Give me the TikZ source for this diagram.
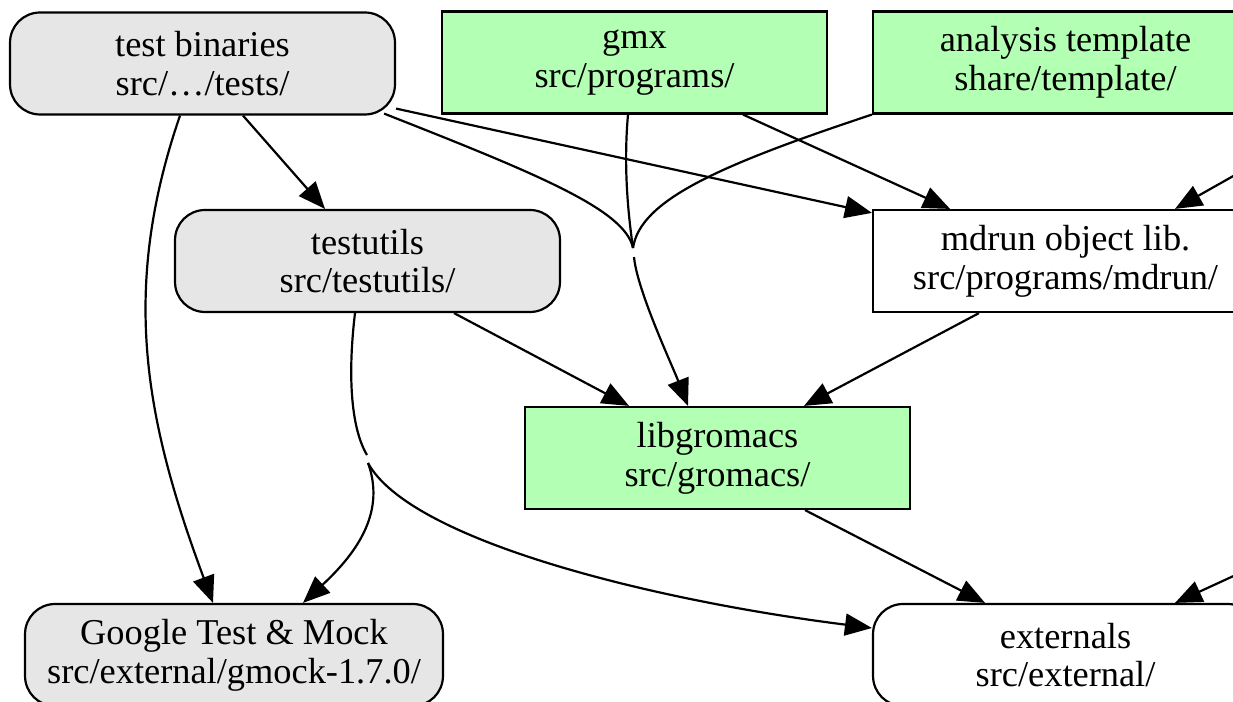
\documentclass[tikz,border=0pt]{standalone}
\usepackage{fontspec}
\setmainfont{Liberation Serif}
\usetikzlibrary{arrows.meta,calc}
\definecolor{box_gray}{HTML}{E6E6E6}
\definecolor{box_green}{HTML}{B3FFB3}

\begin{document}
\begin{tikzpicture}[x=0.02cm, y=-0.02cm]
  \tikzset{
    mod_box/.style={
      draw, line width=1.25pt,
      minimum width=7.7cm, minimum height=2.04cm, inner sep=0pt,
      align=center, font=\fontsize{20.7pt}{22pt}\selectfont
    },
    test_box/.style={mod_box, fill=box_gray, rounded corners=0.6cm},
    lib_box/.style={mod_box, fill=box_green},
    plain_box/.style={mod_box, fill=white},
    dep/.style={line width=1.25pt, -{Triangle[length=0.54cm, width=0.44cm]}},
    dep_part/.style={line width=1.25pt}
  }

  % page frame
  \useasboundingbox (0,0) rectangle (1233,702);

  % modules
  \node[test_box] (tests) at (202.5, 63.5) {test binaries\\src/…/tests/};
  \node[lib_box] (gmx) at (634.5, 62.5) {gmx\\src/programs/};
  \node[lib_box] (template) at (1065.5, 62.5) {analysis template\\share/template/};
  \node[test_box] (testutils) at (367.5, 261) {testutils\\src/testutils/};
  \node[plain_box] (mdrun) at (1065.5, 261) {mdrun object lib.\\src/programs/mdrun/};
  \node[lib_box] (libgmx) at (717.5, 458) {libgromacs\\src/gromacs/};
  \node[test_box, minimum width=8.36cm] (gtest) at (234, 655) {Google Test \& Mock\\src/external/gmock-1.7.0/};
  \node[plain_box, rounded corners=0.6cm] (externals) at (1065.5, 655) {externals\\src/external/};

  % merge points and off-page sources
  \coordinate (lib_join) at (633, 248);
  \coordinate (lib_split) at (634, 257);
  \coordinate (ext_join) at (367, 455);
  \coordinate (ext_split) at (368, 463);
  \coordinate (md_src) at (1290, 144);
  \coordinate (ext_src) at (1290, 550);

  % dependencies
  \draw[dep] ($(tests.south)+(40.5,0)$) -- ($(testutils.north)+(-42.5,0)$);
  \draw[dep] ($(tests.south)+(-22.5,0)$) .. controls (120,290) and (145,420) .. ($(gtest.north)+(-21,0)$);
  \draw[dep] ($(tests.south east)+(0,-7)$) -- ($(mdrun.north west)+(0,4)$);
  \draw[dep_part] ($(tests.south east)+(-12,-2)$) .. controls (540,175) and (625,210) .. (lib_join);
  \draw[dep_part] ($(gmx.south)+(-6.5,0)$) .. controls (623,170) and (629,220) .. (lib_join);
  \draw[dep_part] (template.south west) .. controls (720,165) and (640,200) .. (lib_join);
  \draw[dep] (lib_split) .. controls (637,290) and (672,365) .. ($(libgmx.north)+(-29.5,0)$);
  \draw[dep] ($(gmx.south)+(108.5,0)$) -- ($(mdrun.north)+(-115.5,0)$);
  \draw[dep] (md_src) -- ($(mdrun.north)+(109.5,0)$);
  \draw[dep] ($(testutils.south)+(86.5,0)$) -- ($(libgmx.north)+(-88.5,0)$);
  \draw[dep] ($(mdrun.south)+(-86.5,0)$) -- ($(libgmx.north)+(86.5,0)$);
  \draw[dep] ($(libgmx.south)+(87.5,0)$) -- ($(externals.north)+(-80.5,0)$);
  \draw[dep] (ext_src) -- ($(externals.north)+(109.5,0)$);
  \draw[dep_part] ($(testutils.south)+(-12.5,0)$) .. controls (347,380) and (352,430) .. (ext_join);
  \draw[dep] (ext_split) .. controls (385,510) and (360,550) .. ($(gtest.north)+(69,0)$);
  \draw[dep] (ext_split) .. controls (410,540) and (650,600) .. ($(externals.west)+(0,-27)$);
\end{tikzpicture}
\end{document}
